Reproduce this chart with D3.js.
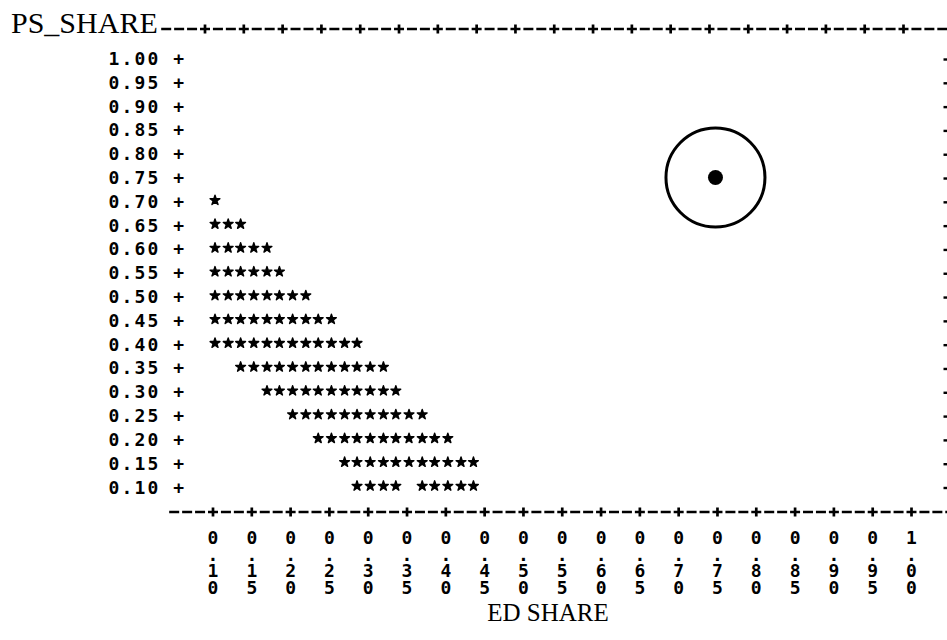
<!DOCTYPE html>
<html>
<head>
<meta charset="utf-8">
<script src="https://cdn.jsdelivr.net/npm/d3@7"></script>
<style>
  html, body { margin: 0; padding: 0; background: #fff; }
  svg { display: block; }
</style>
</head>
<body>
<svg id="chart" width="947" height="640"></svg>
<script>
// ---- data ----
const xTickValues = [0.10, 0.15, 0.20, 0.25, 0.30, 0.35, 0.40, 0.45, 0.50, 0.55, 0.60, 0.65, 0.70, 0.75, 0.80, 0.85, 0.90, 0.95, 1.00];
const yTickValues = [1.00, 0.95, 0.90, 0.85, 0.80, 0.75, 0.70, 0.65, 0.60, 0.55, 0.50, 0.45, 0.40, 0.35, 0.30, 0.25, 0.20, 0.15, 0.10];
const xTitle = "ED SHARE";
const yTitle = "PS_SHARE";

// PS share of each printed row of stars, and the ED share of every star on that row
const starRowPS = [0.70, 0.65, 0.60, 0.55, 0.50, 0.45, 0.40, 0.35, 0.30, 0.25, 0.20, 0.15, 0.10];
const starRowED = [
  [0.100],
  [0.100, 0.117, 0.133],
  [0.100, 0.117, 0.133, 0.150, 0.167],
  [0.100, 0.117, 0.133, 0.150, 0.167, 0.183],
  [0.100, 0.117, 0.133, 0.150, 0.167, 0.183, 0.200, 0.217],
  [0.100, 0.117, 0.133, 0.150, 0.167, 0.183, 0.200, 0.217, 0.233, 0.250],
  [0.100, 0.117, 0.133, 0.150, 0.167, 0.183, 0.200, 0.217, 0.233, 0.250, 0.267, 0.283],
  [0.133, 0.150, 0.167, 0.183, 0.200, 0.217, 0.233, 0.250, 0.267, 0.283, 0.300, 0.317],
  [0.167, 0.183, 0.200, 0.217, 0.233, 0.250, 0.267, 0.283, 0.300, 0.317, 0.333],
  [0.200, 0.217, 0.233, 0.250, 0.267, 0.283, 0.300, 0.317, 0.333, 0.350, 0.367],
  [0.233, 0.250, 0.267, 0.283, 0.300, 0.317, 0.333, 0.350, 0.367, 0.383, 0.400],
  [0.267, 0.283, 0.300, 0.317, 0.333, 0.350, 0.367, 0.383, 0.400, 0.417, 0.433],
  [0.283, 0.300, 0.317, 0.333, 0.367, 0.383, 0.400, 0.417, 0.433]
];
// highlighted (circled) point
const markED = [0.75];
const markPS = [0.75];

// ---- layout ----
const svg = d3.select("#chart");
const x = d3.scaleLinear().domain([0.10, 1.00]).range([213, 911.5]);
const y = d3.scaleLinear().domain([0.10, 1.00]).range([487, 58.5]);
const cell = (x(0.15) - x(0.10)) / 3;      // one printer column
const monoFont = "'DejaVu Sans Mono', monospace";
const serifFont = "'Liberation Serif', 'Times New Roman', serif";
const ink = "#000";

// dashed printer-style border line with '+' ticks
function border(yPos, startX, offset) {
  const g = svg.append("g");
  let s = x(0.10) + offset;
  while (s - cell >= startX + 4) s -= cell;
  g.append("line")
    .attr("x1", s - 5).attr("x2", 960)
    .attr("y1", yPos).attr("y2", yPos)
    .attr("stroke", ink).attr("stroke-width", 2.7)
    .attr("stroke-dasharray", `10 ${cell - 10}`);
  g.selectAll("line.tick").data(xTickValues).join("line")
    .attr("class", "tick")
    .attr("x1", d => x(d) + offset).attr("x2", d => x(d) + offset)
    .attr("y1", yPos - 4.5).attr("y2", yPos + 4.5)
    .attr("stroke", ink).attr("stroke-width", 2.7);
}
border(29, 162, -8);
border(512, 168, 0);

// y title
svg.append("text")
  .attr("x", 11).attr("y", 33)
  .attr("font-family", serifFont).attr("font-size", 30)
  .attr("fill", ink)
  .text(yTitle);

// y tick labels "1.00 +"
svg.append("g").selectAll("text").data(yTickValues).join("text")
  .attr("x", 108.6).attr("y", d => y(d) + 6.5)
  .attr("font-family", monoFont).attr("font-weight", "bold").attr("font-size", 18)
  .attr("letter-spacing", (cell - 0.602 * 18).toFixed(2))
  .attr("fill", ink)
  .attr("xml:space", "preserve")
  .style("white-space", "pre")
  .text(d => d.toFixed(2) + " +");

// right border marks
svg.append("g").selectAll("line").data(yTickValues).join("line")
  .attr("x1", 943.5).attr("x2", 948)
  .attr("y1", d => y(d) + 1).attr("y2", d => y(d) + 1)
  .attr("stroke", ink).attr("stroke-width", 2.4);

// x tick labels, printed vertically one character per line (vertical upright text)
const xFs = 18;
svg.append("g").selectAll("text").data(xTickValues).join("text")
  .attr("x", d => x(d))
  .attr("y", 527)
  .attr("font-family", monoFont).attr("font-weight", "bold").attr("font-size", xFs)
  .style("writing-mode", "vertical-rl")
  .style("text-orientation", "upright")
  .attr("letter-spacing", (16.5 - 1.164 * xFs).toFixed(2))
  .attr("fill", ink)
  .text(d => d.toFixed(2));

// x title
svg.append("text")
  .attr("x", 548).attr("y", 621)
  .attr("text-anchor", "middle")
  .attr("font-family", serifFont).attr("font-size", 25)
  .attr("fill", ink)
  .text(xTitle);

// stars
const star = d3.symbol().type(d3.symbolStar).size(30);
const starPts = [];
starRowPS.forEach((ps, i) => starRowED[i].forEach(ed => starPts.push({ ed, ps })));
svg.append("g").selectAll("path").data(starPts).join("path")
  .attr("d", star)
  .attr("transform", d => `translate(${x(d.ed) + 2},${y(d.ps) - 1})`)
  .attr("fill", ink).attr("stroke", ink).attr("stroke-width", 1.4)
  .attr("stroke-linejoin", "round");

// circled point
const marks = markED.map((ed, i) => ({ ed, ps: markPS[i] }));
const mg = svg.append("g");
mg.selectAll("circle.ring").data(marks).join("circle")
  .attr("class", "ring")
  .attr("cx", d => x(d.ed) - 2).attr("cy", d => y(d.ps))
  .attr("r", 49.5)
  .attr("fill", "none").attr("stroke", ink).attr("stroke-width", 3);
mg.selectAll("circle.dot").data(marks).join("circle")
  .attr("class", "dot")
  .attr("cx", d => x(d.ed) - 2).attr("cy", d => y(d.ps))
  .attr("r", 7.5)
  .attr("fill", ink);
</script>
</body>
</html>
